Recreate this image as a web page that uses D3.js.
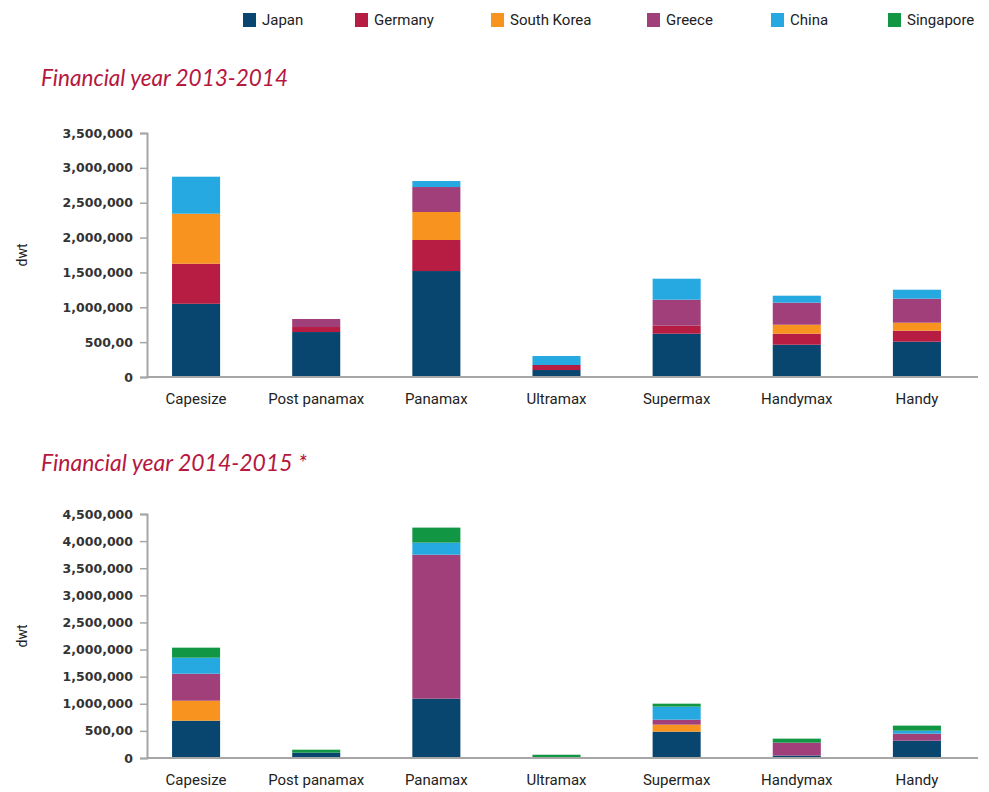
<!DOCTYPE html>
<html>
<head>
<meta charset="utf-8">
<script src="https://cdnjs.cloudflare.com/ajax/libs/d3/7.8.5/d3.min.js"></script>
<style>
  body { margin: 0; background: #fff; }
  text { font-family: Roboto, "Noto Sans", sans-serif; }
</style>
</head>
<body>
<div id="chart"></div>
<script>
const width = 989, height = 792;

const categories = ["Capesize", "Post panamax", "Panamax", "Ultramax", "Supermax", "Handymax", "Handy"];
const countries = ["Japan", "Germany", "South Korea", "Greece", "China", "Singapore"];
const colors = ["#08466f", "#b71c43", "#f7931e", "#a03f79", "#25a9e0", "#119643"];

// Financial year 2013-2014 (dwt)
const japan2013     = [1050000, 645000, 1520000, 100000, 621000, 463000, 506000];
const germany2013   = [575000,  72000,  445000,  72000,  115000, 158000, 158000];
const korea2013     = [717000,  0,      402000,  0,      0,      129000, 115000];
const greece2013    = [0,       115000, 358000,  0,      373000, 316000, 344000];
const china2013     = [531000,  0,      86000,   129000, 301000, 100000, 129000];
const singapore2013 = [0,       0,      0,       0,      0,      0,      0];

// Financial year 2014-2015 (dwt)
const japan2014     = [688000, 98000, 1094000, 0,     486000, 45000,  320000];
const germany2014   = [0,      0,     0,       0,     0,      0,      0];
const korea2014     = [369000, 0,     0,       0,     129000, 0,      0];
const greece2014    = [498000, 0,     2656000, 0,     92000,  238000, 129000];
const china2014     = [295000, 0,     222000,  0,     240000, 0,      55000];
const singapore2014 = [185000, 55000, 277000,  60000, 55000,  74000,  93000];

const ticks2013 = [0, 500000, 1000000, 1500000, 2000000, 2500000, 3000000, 3500000];
const tickLabels2013 = ["0", "500,00", "1,000,000", "1,500,000", "2,000,000", "2,500,000", "3,000,000", "3,500,000"];
const ticks2014 = [0, 500000, 1000000, 1500000, 2000000, 2500000, 3000000, 3500000, 4000000, 4500000];
const tickLabels2014 = ["0", "500,00", "1,000,000", "1,500,000", "2,000,000", "2,500,000", "3,000,000", "3,500,000", "4,000,000", "4,500,000"];

let svg = d3.select("#chart")
    .append("svg")
    .attr("width", width)
    .attr("height", height);

let color = d3.scaleOrdinal().domain(countries).range(colors);

let x = d3.scaleBand()
    .domain(categories)
    .range([136, 977])
    .paddingInner(0.6)
    .paddingOuter(0.3);

// legend
let legendX = [243, 355, 491, 647, 771, 888];
let legend = svg.append("g");
countries.forEach(function(c, i) {
    legend.append("rect")
        .attr("x", legendX[i]).attr("y", 13)
        .attr("width", 13).attr("height", 14)
        .attr("fill", color(c));
    legend.append("text")
        .attr("x", legendX[i] + 19).attr("y", 25)
        .style("font-size", "15px")
        .style("fill", "#222")
        .text(c);
});

function toRows(series) {
    return categories.map(function(cat, i) {
        let row = { category: cat };
        countries.forEach(function(c, j) { row[c] = series[j][i]; });
        return row;
    });
}

function drawPanel(opts) {
    let g = svg.append("g");

    g.append("text")
        .attr("x", 41).attr("y", opts.titleY)
        .attr("textLength", opts.titleLength)
        .attr("lengthAdjust", "spacingAndGlyphs")
        .style("font-family", "Lato, 'Open Sans', sans-serif")
        .style("font-style", "italic")
        .style("font-size", "24px")
        .style("fill", "#b5173f")
        .text(opts.title);

    let y = d3.scaleLinear()
        .domain([0, opts.max])
        .range([opts.bottom, opts.top]);

    let stack = d3.stack().keys(countries);
    let layers = stack(toRows(opts.series));

    g.selectAll("g.layer")
        .data(layers)
        .enter()
        .append("g")
        .attr("class", "layer")
        .attr("fill", function(d) { return color(d.key); })
        .selectAll("rect")
        .data(function(d) { return d; })
        .enter()
        .append("rect")
        .attr("x", function(d) { return x(d.data.category); })
        .attr("y", function(d) { return y(d[1]); })
        .attr("width", x.bandwidth())
        .attr("height", function(d) { return y(d[0]) - y(d[1]); });

    // y axis
    let yAxis = g.append("g")
        .attr("transform", "translate(147,0)")
        .call(d3.axisLeft(y)
            .tickValues(opts.ticks)
            .tickFormat(function(d, i) { return opts.tickLabels[i]; })
            .tickSize(7)
            .tickPadding(7));
    yAxis.select(".domain").attr("stroke", "#a6a6a6").attr("stroke-width", 2);
    yAxis.selectAll(".tick line").attr("stroke", "#a6a6a6").attr("stroke-width", 1.5);
    yAxis.selectAll(".tick text")
        .style("font-family", "'DejaVu Sans', sans-serif")
        .style("font-weight", "bold")
        .style("font-size", "12.5px")
        .style("fill", "#333");

    // x axis baseline
    g.append("line")
        .attr("x1", 146).attr("x2", 978)
        .attr("y1", y(0)).attr("y2", y(0))
        .attr("stroke", "#a6a6a6")
        .attr("stroke-width", 2);

    g.selectAll("text.cat")
        .data(categories)
        .enter()
        .append("text")
        .attr("class", "cat")
        .attr("x", function(d) { return x(d) + x.bandwidth() / 2; })
        .attr("y", opts.bottom + 27)
        .style("text-anchor", "middle")
        .style("font-size", "15px")
        .style("fill", "#222")
        .text(function(d) { return d; });

    g.append("text")
        .attr("transform", `translate(27, ${(opts.top + opts.bottom) / 2})rotate(-90)`)
        .style("text-anchor", "middle")
        .style("font-size", "14px")
        .style("fill", "#222")
        .text("dwt");
}

drawPanel({
    title: "Financial year 2013-2014",
    titleY: 86, titleLength: 247,
    top: 133, bottom: 377, max: 3500000,
    ticks: ticks2013, tickLabels: tickLabels2013,
    series: [japan2013, germany2013, korea2013, greece2013, china2013, singapore2013]
});

drawPanel({
    title: "Financial year 2014-2015 *",
    titleY: 471, titleLength: 266,
    top: 514, bottom: 758, max: 4500000,
    ticks: ticks2014, tickLabels: tickLabels2014,
    series: [japan2014, germany2014, korea2014, greece2014, china2014, singapore2014]
});
</script>
</body>
</html>
